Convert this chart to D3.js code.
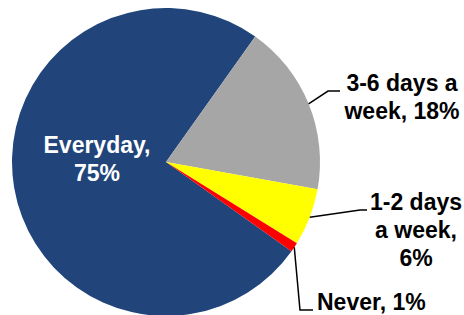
<!DOCTYPE html>
<html>
<head>
<meta charset="utf-8">
<script src="https://cdn.jsdelivr.net/npm/d3@7"></script>
<style>
  body { margin: 0; background: #fff; }
  svg text { font-family: Arial, "Liberation Sans", sans-serif; font-weight: bold; }
</style>
</head>
<body>
<div id="chart"></div>
<script>
// Data
const categories = ["Everyday", "3-6 days a week", "1-2 days a week", "Never"];
const values = [75, 18, 6, 1];
const colors = ["#21457A", "#A6A6A6", "#FFFF00", "#FF0000"];
const labelLines = [
    ["Everyday,", "75%"],
    ["3-6 days a", "week, 18%"],
    ["1-2 days", "a week,", "6%"],
    ["Never, 1%"]
];

const width = 464, height = 315;
const cx = 166, cy = 162, radius = 154;
const startDeg = 125.4;

// label layout (elbow, text anchor)
const labelLayout = [
    { inside: true, x: 97, y: 153, anchor: "middle", fill: "#fff" },
    { elbow: [328, 91], end: [340, 91], x: 402, y: 91, anchor: "middle", fill: "#000" },
    { elbow: [360, 210], end: [367, 210], x: 416, y: 210, anchor: "middle", fill: "#000" },
    { elbow: [300, 310], end: [313, 310], x: 317, y: 310, anchor: "start", fill: "#000" }
];
const lineHeight = 28;

const svg = d3.select("#chart").append("svg")
    .attr("width", width)
    .attr("height", height);

const pie = d3.pie()
    .value(d => d)
    .sort(null)
    .startAngle(startDeg * Math.PI / 180)
    .endAngle(startDeg * Math.PI / 180 + 2 * Math.PI);

const arc = d3.arc().innerRadius(0).outerRadius(radius);

const arcs = pie(values);

const g = svg.append("g").attr("transform", `translate(${cx},${cy})`);

g.selectAll("path")
    .data(arcs)
    .enter().append("path")
    .attr("d", arc)
    .attr("fill", (d, i) => colors[i]);

// leader lines
arcs.forEach((d, i) => {
    const lay = labelLayout[i];
    if (lay.inside) return;
    const mid = (d.startAngle + d.endAngle) / 2;
    const sx = cx + radius * Math.sin(mid);
    const sy = cy - radius * Math.cos(mid);
    svg.append("polyline")
        .attr("points", [[sx, sy], lay.elbow, lay.end].map(p => p.join(",")).join(" "))
        .attr("fill", "none")
        .attr("stroke", "#000")
        .attr("stroke-width", 1.5);
});

// labels
labelLines.forEach((lines, i) => {
    const lay = labelLayout[i];
    const t = svg.append("text")
        .attr("text-anchor", lay.anchor)
        .attr("fill", lay.fill)
        .style("font-size", "23px");
    lines.forEach((s, j) => {
        t.append("tspan")
            .attr("x", lay.x)
            .attr("y", lay.y + j * lineHeight)
            .text(s);
    });
});
</script>
</body>
</html>
